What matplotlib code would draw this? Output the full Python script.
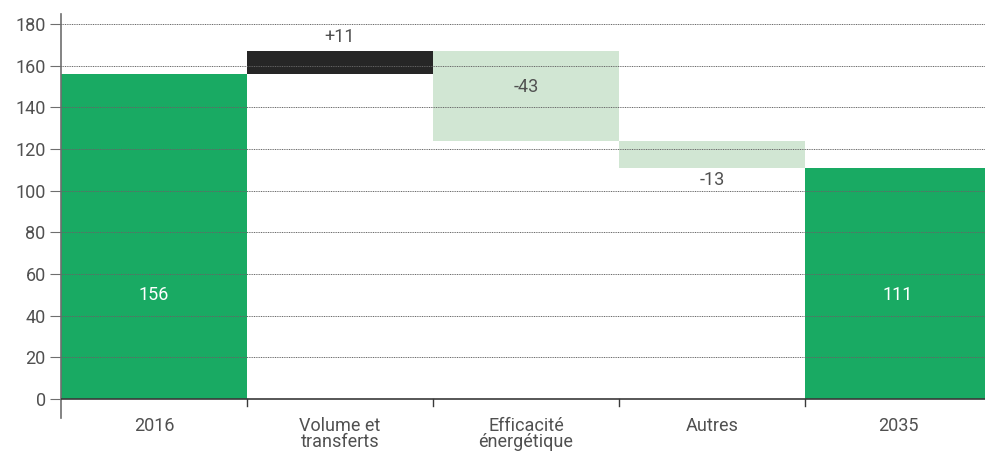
import numpy as np
import matplotlib.pyplot as plt

plt.rcParams['font.family'] = ['Roboto', 'DejaVu Sans']

# Pont des émissions 2016 -> 2035
categories = ['2016', 'Volume et\ntransferts', 'Efficacité\nénergétique', 'Autres', '2035']
values = [156, 11, -43, -13, 111]
kinds = ['total', 'delta', 'delta', 'delta', 'total']
labels = ['156', '+11', '-43', '-13', '111']

green = '#19aa63'
dark = '#262626'
pale = '#d1e6d3'
txt = '#505050'

# bases et hauteurs des barres en cascade
bottoms, heights, colors = [], [], []
level = 0
for v, k in zip(values, kinds):
    if k == 'total':
        bottoms.append(0)
        heights.append(v)
        colors.append(green)
        level = v
    else:
        if v >= 0:
            bottoms.append(level)
            colors.append(dark)
        else:
            bottoms.append(level + v)
            colors.append(pale)
        heights.append(abs(v))
        level += v

fig = plt.figure(figsize=(9.85, 4.51), dpi=100)
ax = fig.add_axes([61 / 985, 1 - 418 / 451, 1 - 61 / 985, 404 / 451])

x = np.arange(len(categories))
ax.bar(x, heights, bottom=bottoms, width=1.0, color=colors, zorder=2)

ax.set_xlim(-0.5, 4.468)
ax.set_ylim(-9.1, 184.8)

# grille pointillée par-dessus les barres
for yv in range(20, 181, 20):
    ax.axhline(yv, color='#666666', lw=0.7, ls=(0, (1, 0.8)), zorder=3)
ax.axhline(0, color='#3a3a3a', lw=1.2, zorder=4)

ax.set_yticks(range(0, 181, 20))
ax.tick_params(axis='y', length=8, width=0.8, color='#6e6e6e', labelsize=13,
               labelcolor=txt, pad=3)

ax.set_xticks([])
ax.spines['bottom'].set_visible(False)
for i in np.arange(0.5, 4.5, 1):
    ax.plot([i, i], [0, -3.4], color='#3a3a3a', lw=1, zorder=4, clip_on=False)

for i, c in enumerate(categories):
    ax.text(i, -8.6, c, ha='center', va='top', fontsize=13, color=txt,
            linespacing=0.85, clip_on=False)

for s in ['top', 'right']:
    ax.spines[s].set_visible(False)
ax.spines['left'].set_color('#6e6e6e')
ax.spines['left'].set_linewidth(1.2)

# étiquettes de valeurs
for i, (lab, k) in enumerate(zip(labels, kinds)):
    top = bottoms[i] + heights[i]
    if k == 'total':
        ax.text(i, 50, lab, ha='center', va='center', fontsize=13, color='white', zorder=5)
    elif values[i] > 0:
        ax.text(i, top + 7, lab, ha='center', va='center', fontsize=13, color=txt, zorder=5)
    elif i == 2:
        ax.text(i, top - 17, lab, ha='center', va='center', fontsize=13, color=txt, zorder=5)
    else:
        ax.text(i, bottoms[i] - 6, lab, ha='center', va='center', fontsize=13, color=txt, zorder=5)

fig.savefig('out.png', dpi=100)
